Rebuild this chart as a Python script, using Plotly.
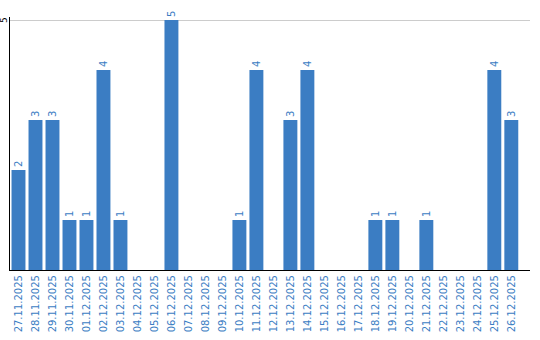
import plotly.graph_objects as go

dates = ["27.11.2025","28.11.2025","29.11.2025","30.11.2025","01.12.2025","02.12.2025",
         "03.12.2025","04.12.2025","05.12.2025","06.12.2025","07.12.2025","08.12.2025",
         "09.12.2025","10.12.2025","11.12.2025","12.12.2025","13.12.2025","14.12.2025",
         "15.12.2025","16.12.2025","17.12.2025","18.12.2025","19.12.2025","20.12.2025",
         "21.12.2025","22.12.2025","23.12.2025","24.12.2025","25.12.2025","26.12.2025"]
values = [2,3,3,1,1,4,1,0,0,5,0,0,0,1,4,0,3,4,0,0,0,1,1,0,1,0,0,0,4,3]
y_ticks = [5]

labels = [str(v) if v > 0 else "" for v in values]
blue = "#3b7dc3"

fig = go.Figure(go.Bar(
    x=dates, y=values, text=labels, textposition="outside", textangle=-90,
    textfont=dict(color=blue, size=10, family="DejaVu Sans"),
    marker=dict(color=blue, line=dict(width=0)),
    cliponaxis=False, constraintext="none",
))
fig.update_layout(
    width=540, height=340, margin=dict(l=10, r=10, t=17, b=70),
    paper_bgcolor="white", plot_bgcolor="white", bargap=0.18,
    showlegend=False, font=dict(family="DejaVu Sans", size=10),
)
for t in y_ticks:
    fig.add_annotation(x=0, xref="paper", xanchor="center", xshift=-6, y=t, yref="y",
                       yanchor="middle", text=str(t), textangle=-90, showarrow=False,
                       borderpad=0, font=dict(color="black", size=9, family="DejaVu Sans"))
fig.update_xaxes(type="category", range=[-0.5, 30.1], tickangle=-90, automargin=False,
                 tickfont=dict(color=blue, size=10, family="DejaVu Sans"),
                 showline=True, linecolor="black", linewidth=1.2, showgrid=False, ticks="")
fig.update_yaxes(range=[0, 5.06], tickvals=y_ticks, showticklabels=False, automargin=False,
                 showline=True, linecolor="black",
                 linewidth=1.2, showgrid=True, gridcolor="#cccccc", gridwidth=1,
                 zeroline=False, ticks="")
fig.write_html("out.html")
